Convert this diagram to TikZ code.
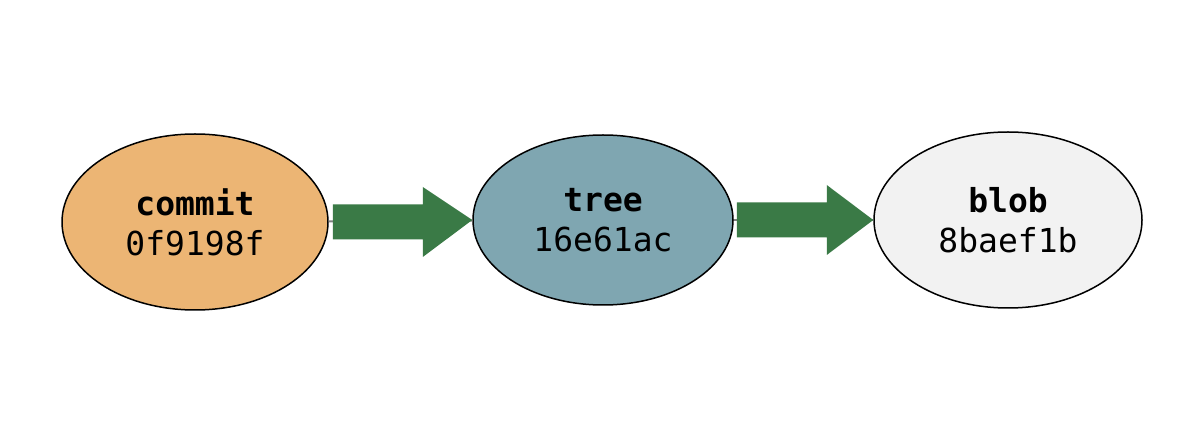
\documentclass[tikz,border=0pt]{standalone}
\usepackage{fontspec}
\setmonofont{DejaVu Sans Mono}
\usetikzlibrary{shapes.geometric,calc}
\definecolor{commitfill}{RGB}{236,181,116}
\definecolor{treefill}{RGB}{127,166,177}
\definecolor{blobfill}{RGB}{242,242,242}
\definecolor{arrowgreen}{RGB}{58,122,70}
\begin{document}
\begin{tikzpicture}[x=1pt,y=-1pt,
  obj/.style={ellipse,draw=black,line width=1.5pt,inner sep=0pt,align=center,
    font=\ttfamily\fontsize{33}{40}\selectfont},
  stub/.style={draw=gray,line width=2pt},
  blockarrow/.style={fill=arrowgreen}]
\useasboundingbox (0,0) rectangle (1183,427);
\fill[white] (0,0) rectangle (1183,427);
\node[obj,fill=commitfill,minimum width=266pt,minimum height=176pt] (commit) at (195,222) {\textbf{commit}\\0f9198f};
\node[obj,fill=treefill,minimum width=260pt,minimum height=170pt] (tree) at (603,220) {\textbf{tree}\\16e61ac};
\node[obj,fill=blobfill,minimum width=268pt,minimum height=176pt] (blob) at (1008,220) {\textbf{blob}\\8baef1b};
\draw[stub] (commit) -- (tree);
\draw[stub] (tree) -- (blob);
% block arrows
\fill[blockarrow] ($(commit.east)+(4,-17.5)$) -- ++(90,0) -- ++(0,-17.5)
  -- (tree.west) -- ($(commit.east)+(94,35)$) -- ++(0,-17.5) -- ++(-90,0) -- cycle;
\fill[blockarrow] ($(tree.east)+(3,-17.5)$) -- ++(90,0) -- ++(0,-17.5)
  -- (blob.west) -- ($(tree.east)+(93,35)$) -- ++(0,-17.5) -- ++(-90,0) -- cycle;
\end{tikzpicture}
\end{document}
